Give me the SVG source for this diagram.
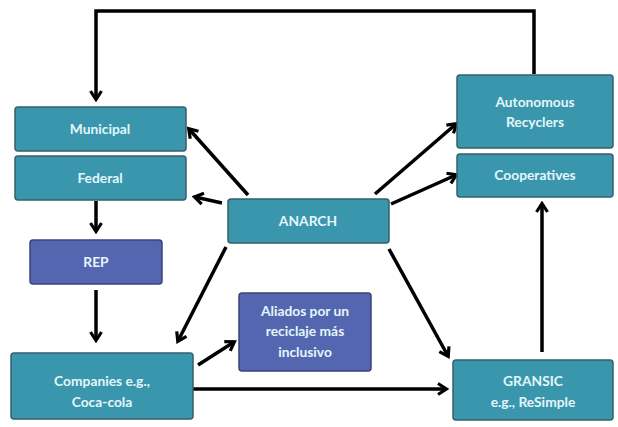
<svg xmlns="http://www.w3.org/2000/svg" width="618" height="427" viewBox="0 0 618 427">
<defs>
<style>
.t rect{fill:#3996AD;stroke:#35606b;stroke-width:1.5}
.p rect{fill:#5566B1;stroke:#3b4478;stroke-width:1.5}
text{font-family:Lato,"Open Sans",sans-serif;font-weight:bold;font-size:13.8px;fill:#E4F6FA;text-anchor:middle}
.c path{fill:none;stroke:#000;stroke-width:3.5;stroke-linejoin:miter}
</style>
<marker id="a" viewBox="0 0 14 14" refX="11" refY="7" markerWidth="14" markerHeight="14" markerUnits="userSpaceOnUse" orient="auto">
<path d="M3,1.5 L11.5,7 L3,12.5" fill="none" stroke="#000" stroke-width="3.2"/>
</marker>
</defs>
<rect width="618" height="427" fill="#fff"/>
<g class="c">
<path d="M534,74 V11 H96 V99" marker-end="url(#a)"/>
<path d="M96,201 V231" marker-end="url(#a)"/>
<path d="M96,290 V340" marker-end="url(#a)"/>
<path d="M248,195 L189,129" marker-end="url(#a)"/>
<path d="M222,203 L195,197" marker-end="url(#a)"/>
<path d="M375,194 L456,124" marker-end="url(#a)"/>
<path d="M391,204 L456,175" marker-end="url(#a)"/>
<path d="M226,247 L178,341" marker-end="url(#a)"/>
<path d="M389,249 L448,356" marker-end="url(#a)"/>
<path d="M198,365 L234,342" marker-end="url(#a)"/>
<path d="M193,389 H446" marker-end="url(#a)"/>
<path d="M542,352 V204" marker-end="url(#a)"/>
</g>
<g id="municipal" class="t"><rect x="15" y="107" width="171" height="44" rx="3"/><text x="100" y="134">Municipal</text></g>
<g id="federal" class="t"><rect x="15" y="156" width="171" height="44" rx="3"/><text x="100" y="183">Federal</text></g>
<g id="rep" class="p"><rect x="30" y="240" width="132" height="44" rx="3"/><text x="96" y="267">REP</text></g>
<g id="anarch" class="t"><rect x="228" y="199" width="161" height="44" rx="3"/><text x="308" y="226">ANARCH</text></g>
<g id="autonomous" class="t"><rect x="457" y="75" width="156" height="73" rx="3"/><text x="535" y="107">Autonomous</text><text x="535" y="127">Recyclers</text></g>
<g id="cooperatives" class="t"><rect x="457" y="154" width="156" height="43" rx="3"/><text x="535" y="180">Cooperatives</text></g>
<g id="aliados" class="p"><rect x="239" y="293" width="132" height="78" rx="3"/><text x="305" y="316">Aliados por un</text><text x="305" y="336">reciclaje más</text><text x="305" y="357">inclusivo</text></g>
<g id="companies" class="t"><rect x="11" y="353" width="182" height="66" rx="3"/><text x="102" y="386">Companies e.g.,</text><text x="102" y="407">Coca-cola</text></g>
<g id="gransic" class="t"><rect x="453" y="360" width="160" height="60" rx="3"/><text x="533" y="386">GRANSIC</text><text x="533" y="407">e.g., ReSimple</text></g>
</svg>
